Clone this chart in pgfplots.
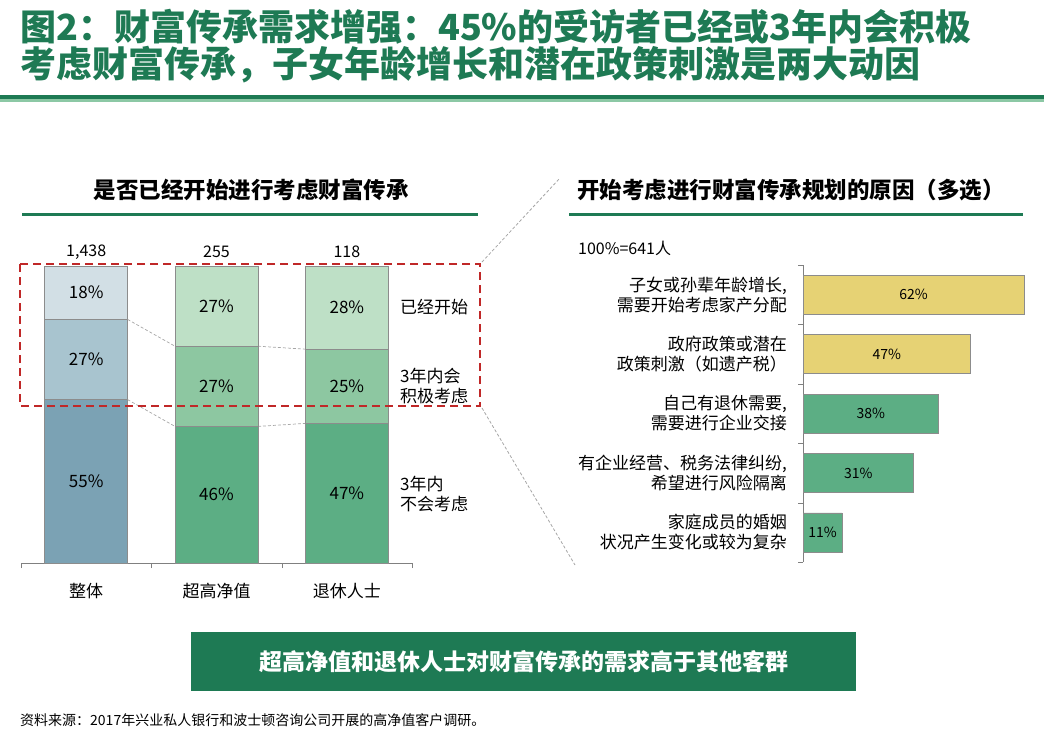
\documentclass[border=0pt]{standalone}
\usepackage{pgfplots}
\pgfplotsset{compat=1.18}
\usepackage{fontspec}
\setmainfont{Noto Sans CJK SC}

\definecolor{tgreen}{RGB}{30,122,84}
\definecolor{lgreen}{RGB}{140,200,165}
\definecolor{bA}{RGB}{123,162,180}
\definecolor{bB}{RGB}{168,196,207}
\definecolor{bC}{RGB}{210,223,229}
\definecolor{gA}{RGB}{92,174,132}
\definecolor{gB}{RGB}{141,199,161}
\definecolor{gC}{RGB}{190,224,198}
\definecolor{ylw}{RGB}{230,210,116}
\definecolor{dred}{RGB}{192,40,40}
\newcommand\fs[2]{\fontsize{#1}{#2}\selectfont}

\pgfplotsset{
  leftgeom/.style={
    at={(21pt,-563pt)}, anchor=south west,
    scale only axis, width=391pt, height=297pt,
    xmin=-0.5, xmax=2.5, ymin=0, ymax=100, clip=false},
  segbar/.style={draw=gray!90, line width=0.6pt},
  labelonly/.style={only marks, mark=text, text mark={},
    nodes near coords, point meta=explicit symbolic},
}

\begin{document}
\begin{tikzpicture}
\path[use as bounding box] (0pt,0pt) rectangle (1044pt,-740pt);

% title
\node[anchor=west, inner sep=0pt, text=tgreen, font=\fs{36}{40}\bfseries] at (20pt,-27pt)
  {图2：财富传承需求增强：45\%的受访者已经或3年内会积极};
\node[anchor=west, inner sep=0pt, text=tgreen, font=\fs{36}{40}\bfseries] at (20pt,-65pt)
  {考虑财富传承，子女年龄增长和潜在政策刺激是两大动因};
\fill[tgreen] (0pt,-95pt) rectangle (1044pt,-99pt);
\fill[lgreen] (0pt,-99pt) rectangle (1044pt,-102pt);

% panel titles
\node[font=\fs{22.5}{26}\bfseries] at (251pt,-190pt) {是否已经开始进行考虑财富传承};
\draw[tgreen, line width=3pt] (22pt,-214pt) -- (478pt,-214pt);
\node[font=\fs{22.5}{26}\bfseries] at (791pt,-190pt) {开始考虑进行财富传承规划的原因（多选）};
\draw[tgreen, line width=3pt] (569pt,-214pt) -- (1023pt,-214pt);

% left: whole sample
\begin{axis}[leftgeom, ybar stacked, bar width=83pt,
  axis x line=bottom, axis y line=none, axis line style={draw=gray,-},
  xtick={0,1,2}, xticklabels={整体,超高净值,退休人士},
  major tick length=0pt, minor xtick={-0.5,0.5,1.5,2.5}, minor tick length=5pt,
  tick align=outside, tick style={gray},
  xticklabel style={font=\fs{17}{20}, anchor=center, yshift=-28pt}]
\addplot[segbar, fill=bA] coordinates {(0,55)};
\addplot[segbar, fill=bB] coordinates {(0,27)};
\addplot[segbar, fill=bC] coordinates {(0,18)};
\end{axis}

% left: high net worth and retirees
\begin{axis}[leftgeom, ybar stacked, bar width=83pt, hide axis]
\addplot[segbar, fill=gA] coordinates {(1,46) (2,47)};
\addplot[segbar, fill=gB] coordinates {(1,27) (2,25)};
\addplot[segbar, fill=gC] coordinates {(1,27) (2,28)};
\draw[gray!70, dash pattern=on 3pt off 2pt, line width=0.7pt]
  (axis cs:0.3185,55) -- (axis cs:0.6815,46)
  (axis cs:0.3185,82) -- (axis cs:0.6815,73)
  (axis cs:1.3185,46) -- (axis cs:1.6815,47)
  (axis cs:1.3185,73) -- (axis cs:1.6815,72);
\end{axis}

% left: labels
\begin{axis}[leftgeom, hide axis]
\addplot[labelonly,
  every node near coord/.style={anchor=center, text=black, font=\fs{17}{20}}]
  coordinates {(0,27.5)[55\%] (0,68.5)[27\%] (0,91)[18\%]
               (1,23)[46\%] (1,59.5)[27\%] (1,86.5)[27\%]
               (2,23.5)[47\%] (2,59.5)[25\%] (2,86)[28\%]};
\addplot[labelonly,
  every node near coord/.style={anchor=center, text=black, yshift=14pt, font=\fs{16}{18}}]
  coordinates {(0,100)[{1,438}] (1,100)[255] (2,100)[118]};
\end{axis}

\node[anchor=west, inner sep=0pt, font=\fs{17}{20}, align=left] at (400pt,-307pt) {已经开始};
\node[anchor=west, inner sep=0pt, font=\fs{17}{20}, align=left] at (400pt,-386pt) {3年内会\\积极考虑};
\node[anchor=west, inner sep=0pt, font=\fs{17}{20}, align=left] at (400pt,-493.5pt) {3年内\\不会考虑};

\draw[dred, line width=2.2pt, dash pattern=on 8pt off 5pt] (20pt,-264pt) rectangle (480pt,-406pt);
\draw[gray!70, dash pattern=on 3pt off 2pt, line width=0.8pt] (482pt,-262pt) -- (560pt,-178pt);
\draw[gray!70, dash pattern=on 3pt off 2pt, line width=0.8pt] (482pt,-408pt) -- (575pt,-565pt);

% right: reasons
\node[anchor=west, inner sep=0pt, font=\fs{16}{18}] at (578pt,-248pt) {100\%=641人};
\begin{axis}[at={(803pt,-562pt)}, anchor=south west,
  scale only axis, width=227pt, height=297pt,
  xmin=0, xmax=63.67, ymin=-0.5, ymax=4.5, clip=false,
  xbar, bar width=39pt, bar shift=0pt,
  axis x line=none, axis y line=left, axis line style={draw=gray,-},
  ytick={0,1,2,3,4},
  yticklabels={{家庭成员的婚姻\\状况产生变化或较为复杂},
               {有企业经营、税务法律纠纷,\\希望进行风险隔离},
               {自己有退休需要,\\需要进行企业交接},
               {政府政策或潜在\\政策刺激（如遗产税）},
               {子女或孙辈年龄增长,\\需要开始考虑家产分配}},
  yticklabel style={font=\fs{17}{20}, align=right, anchor=east, inner sep=0pt, xshift=-16pt},
  major tick length=0pt, minor ytick={-0.5,0.5,...,4.5}, minor tick length=5pt,
  tick align=outside, tick style={gray},
  point meta=x,
  /pgf/number format/assume math mode=true,
  nodes near coords={\pgfmathprintnumber{\pgfplotspointmeta}\%},
  visualization depends on={x \as \rawx},
  every node near coord/.append style={anchor=center, font=\fs{14}{16},
    shift={(axis direction cs:-\rawx/2,0)}}]
\addplot[segbar, fill=ylw] coordinates {(62,4) (47,3)};
\addplot[segbar, fill=gA] coordinates {(38,2) (31,1) (11,0)};
\end{axis}

% conclusion box and source
\fill[tgreen] (191pt,-632pt) rectangle (856pt,-691pt);
\node[text=white, font=\fs{23}{26}\bfseries] at (523.5pt,-662pt) {超高净值和退休人士对财富传承的需求高于其他客群};
\node[anchor=west, inner sep=0pt, font=\fs{14}{16}] at (20pt,-720pt)
  {资料来源：2017年兴业私人银行和波士顿咨询公司开展的高净值客户调研。};
\end{tikzpicture}
\end{document}
